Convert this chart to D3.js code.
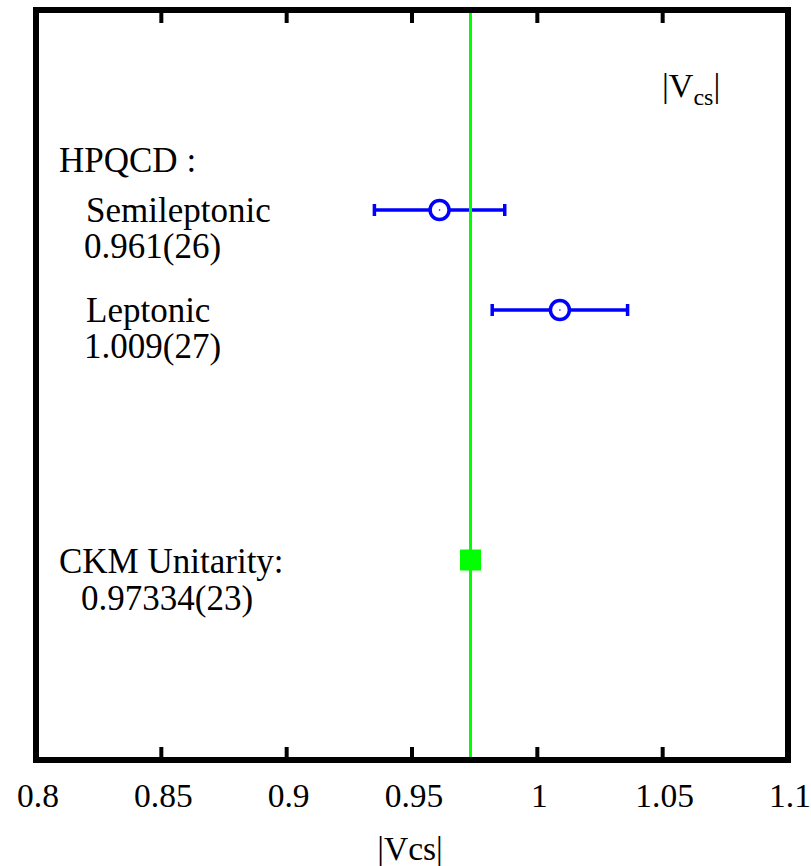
<!DOCTYPE html>
<html lang="en">
<head>
    <meta charset="UTF-8">
    <title>|Vcs| comparison</title>
    <script src="https://cdn.jsdelivr.net/npm/d3@7/dist/d3.min.js"></script>
    <style>
        body { margin: 0; background: #fff; }
        text { font-family: "Liberation Serif", "DejaVu Serif", serif; fill: #000; }
    </style>
</head>
<body>
    <script>
        // tick labels along x
        const xTicks = [0.8, 0.85, 0.9, 0.95, 1.0, 1.05, 1.1];
        const xTickLabels = ["0.8", "0.85", "0.9", "0.95", "1", "1.05", "1.1"];

        // lattice results with symmetric errors (row = vertical slot)
        const names = ["Semileptonic", "Leptonic"];
        const values = [0.961, 1.009];
        const errors = [0.026, 0.027];
        const rows = [11, 9];

        // CKM unitarity
        const ckmValue = 0.97334;
        const ckmRow = 4;

        const width = 811, height = 866;
        const margin = { top: 10, right: 23, bottom: 106, left: 36 };

        const svg = d3.select("body").append("svg")
            .attr("width", width)
            .attr("height", height);

        const x = d3.scaleLinear().domain([0.8, 1.1]).range([margin.left, width - margin.right]);
        const y = d3.scaleLinear().domain([0, 15]).range([height - margin.bottom, margin.top]);

        const blue = "#0000ff", green = "#00ff00";

        // error bars
        const pts = values.map((v, i) => ({ name: names[i], v, e: errors[i], row: rows[i] }));
        const eb = svg.append("g").attr("stroke", blue).attr("stroke-width", 3.5).attr("fill", "none");
        pts.forEach(p => {
            eb.append("line")
                .attr("x1", x(p.v - p.e)).attr("x2", x(p.v + p.e))
                .attr("y1", y(p.row)).attr("y2", y(p.row));
            [p.v - p.e, p.v + p.e].forEach(end => {
                eb.append("line")
                    .attr("x1", x(end)).attr("x2", x(end))
                    .attr("y1", y(p.row) - 6).attr("y2", y(p.row) + 6);
            });
            eb.append("circle")
                .attr("cx", x(p.v)).attr("cy", y(p.row))
                .attr("r", 9.5)
                .attr("fill", "#fff");
            eb.append("circle")
                .attr("cx", x(p.v)).attr("cy", y(p.row))
                .attr("r", 0.8)
                .attr("stroke", "none")
                .attr("fill", blue);
        });

        // green reference line (drawn over the error bars)
        svg.append("line")
            .attr("x1", x(ckmValue)).attr("x2", x(ckmValue))
            .attr("y1", y(15)).attr("y2", y(0))
            .attr("stroke", green)
            .attr("stroke-width", 3);

        // CKM square
        svg.append("rect")
            .attr("x", x(ckmValue) - 10.5).attr("y", y(ckmRow) - 10.5)
            .attr("width", 21).attr("height", 21)
            .attr("fill", green);

        // ticks on top and bottom, pointing inward
        const tickLen = 13;
        svg.append("g")
            .selectAll("line")
            .data(xTicks.slice(1, -1))
            .enter().append("line")
            .attr("x1", d => x(d)).attr("x2", d => x(d))
            .attr("y1", y(0)).attr("y2", y(0) - tickLen)
            .attr("stroke", "#000").attr("stroke-width", 4);
        svg.append("g")
            .selectAll("line")
            .data(xTicks.slice(1, -1))
            .enter().append("line")
            .attr("x1", d => x(d)).attr("x2", d => x(d))
            .attr("y1", y(15)).attr("y2", y(15) + tickLen)
            .attr("stroke", "#000").attr("stroke-width", 4);

        // frame
        svg.append("rect")
            .attr("x", margin.left).attr("y", margin.top)
            .attr("width", x(1.1) - x(0.8))
            .attr("height", y(0) - y(15))
            .attr("fill", "none")
            .attr("stroke", "#000")
            .attr("stroke-width", 6);

        // tick labels
        svg.append("g")
            .selectAll("text")
            .data(xTicks)
            .enter().append("text")
            .attr("x", d => x(d) + 2)
            .attr("y", 807)
            .attr("text-anchor", "middle")
            .attr("font-size", 33.5)
            .text((d, i) => xTickLabels[i]);

        svg.append("text")
            .attr("x", x(0.95) - 2)
            .attr("y", 860)
            .attr("text-anchor", "middle")
            .attr("font-size", 33.5)
            .text("|Vcs|");

        // annotations
        const notes = [
            { t: "HPQCD :", x: 59, y: 172 },
            { t: "Semileptonic", x: 86, y: 222 },
            { t: "0.961(26)", x: 84, y: 258 },
            { t: "Leptonic", x: 86, y: 322 },
            { t: "1.009(27)", x: 84, y: 358 },
            { t: "CKM Unitarity:", x: 59, y: 573 },
            { t: "0.97334(23)", x: 81, y: 610 }
        ];
        svg.append("g")
            .selectAll("text")
            .data(notes)
            .enter().append("text")
            .attr("x", d => d.x).attr("y", d => d.y)
            .attr("font-size", 35)
            .text(d => d.t);

        const vt = svg.append("text").attr("x", 662).attr("y", 97).attr("font-size", 34);
        vt.append("tspan").text("|V");
        vt.append("tspan").attr("font-size", 24).attr("dy", 8).text("cs");
        vt.append("tspan").attr("dy", -8).text("|");
    </script>
</body>
</html>
